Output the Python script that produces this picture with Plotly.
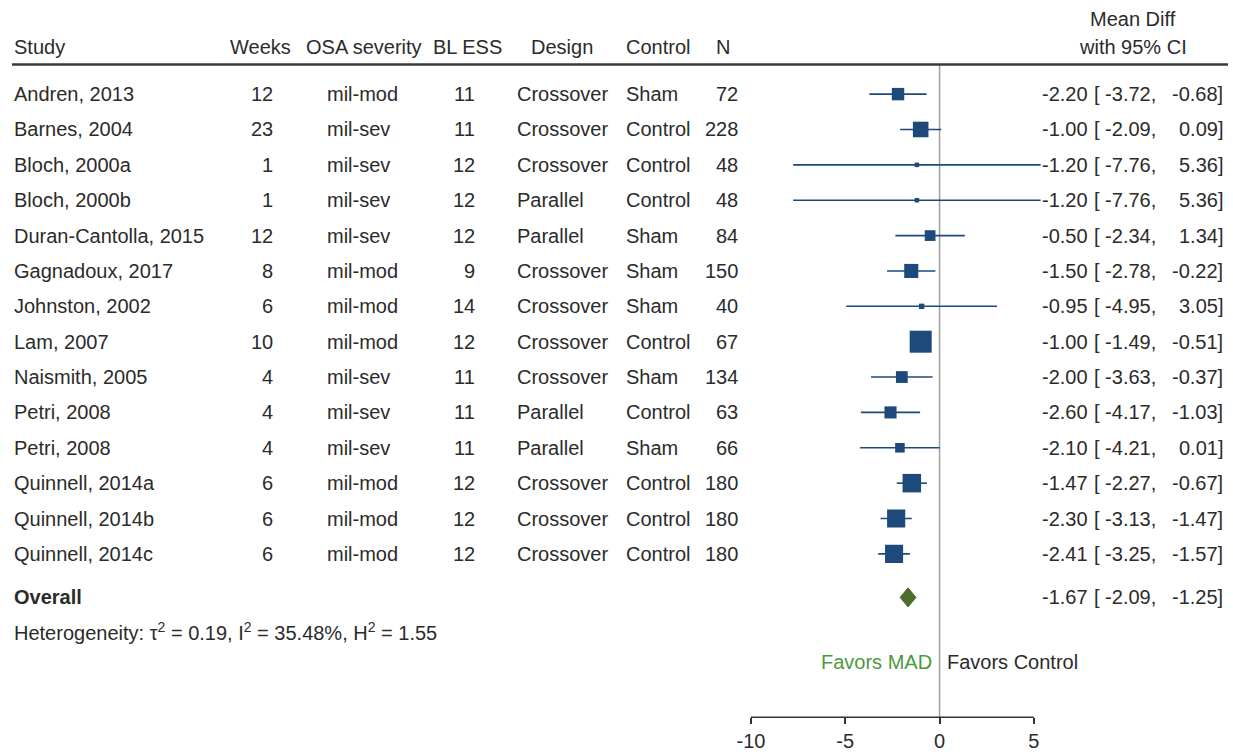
import plotly.graph_objects as go

# ---------------- data ----------------
studies = ["Andren, 2013", "Barnes, 2004", "Bloch, 2000a", "Bloch, 2000b",
           "Duran-Cantolla, 2015", "Gagnadoux, 2017", "Johnston, 2002", "Lam, 2007",
           "Naismith, 2005", "Petri, 2008", "Petri, 2008", "Quinnell, 2014a",
           "Quinnell, 2014b", "Quinnell, 2014c"]
weeks = [12, 23, 1, 1, 12, 8, 6, 10, 4, 4, 4, 6, 6, 6]
severity = ["mil-mod", "mil-sev", "mil-sev", "mil-sev", "mil-sev", "mil-mod", "mil-mod",
            "mil-mod", "mil-sev", "mil-sev", "mil-sev", "mil-mod", "mil-mod", "mil-mod"]
bl_ess = [11, 11, 12, 12, 12, 9, 14, 12, 11, 11, 11, 12, 12, 12]
design = ["Crossover", "Crossover", "Crossover", "Parallel", "Parallel", "Crossover",
          "Crossover", "Crossover", "Crossover", "Parallel", "Parallel", "Crossover",
          "Crossover", "Crossover"]
control = ["Sham", "Control", "Control", "Control", "Sham", "Sham", "Sham", "Control",
           "Sham", "Control", "Sham", "Control", "Control", "Control"]
n_total = [72, 228, 48, 48, 84, 150, 40, 67, 134, 63, 66, 180, 180, 180]
est = [-2.20, -1.00, -1.20, -1.20, -0.50, -1.50, -0.95, -1.00, -2.00, -2.60, -2.10,
       -1.47, -2.30, -2.41]
ci_lo = [-3.72, -2.09, -7.76, -7.76, -2.34, -2.78, -4.95, -1.49, -3.63, -4.17, -4.21,
         -2.27, -3.13, -3.25]
ci_hi = [-0.68, 0.09, 5.36, 5.36, 1.34, -0.22, 3.05, -0.51, -0.37, -1.03, 0.01,
         -0.67, -1.47, -1.57]
weights = [5.9, 9.3, 0.4, 0.4, 4.4, 7.6, 1.1, 18.5, 5.3, 5.6, 3.5, 13.1, 12.6, 12.5]
overall_est, overall_lo, overall_hi = -1.67, -2.09, -1.25
heterogeneity = "Heterogeneity: τ<sup>2</sup> = 0.19, I<sup>2</sup> = 35.48%, H<sup>2</sup> = 1.55"
x_ticks = [-10, -5, 0, 5]
x_ticktext = ["-10", "-5", "0", "5"]

# ---------------- layout constants ----------------
W, H = 1233, 752
FONT = "Liberation Sans, Arial, Helvetica, sans-serif"
FS = 20
TXT = "#2b2b2b"
BLUE = "#1d4a7a"
DGREEN = "#4f6e2c"
LGREEN = "#4a9a3c"
AXIS_PX = 724          # pixel row of the x-axis line
ROW0_PX = 95           # pixel row of first study
ROW_PX = 35.7          # pixels per row


def px(x):
    return x / W


rows = list(range(len(studies)))
overall_y = 14.23
het_y = 15.2
favors_y = 16.07
header_y = -1.345
header_top_y = -2.13
rule_y = -0.84
axis_bottom = (AXIS_PX - ROW0_PX) / ROW_PX
axis_top = -ROW0_PX / ROW_PX

fig = go.Figure()

# CI lines
xs, ys = [], []
for i in rows:
    xs += [ci_lo[i], ci_hi[i], None]
    ys += [i, i, None]
fig.add_trace(go.Scatter(x=xs, y=ys, mode="lines", line=dict(color=BLUE, width=1.6),
                         hoverinfo="skip"))

# squares (area proportional to weight)
sizes = [max(4.5, 5.11 * w ** 0.5) for w in weights]
fig.add_trace(go.Scatter(x=est, y=rows, mode="markers",
                         marker=dict(symbol="square", size=sizes, color=BLUE, opacity=1,
                                     line=dict(width=0)),
                         hoverinfo="skip"))

# overall diamond
hh = 0.27
fig.add_trace(go.Scatter(
    x=[overall_lo, overall_est, overall_hi, overall_est, overall_lo],
    y=[overall_y, overall_y - hh, overall_y, overall_y + hh, overall_y],
    mode="lines", fill="toself", fillcolor=DGREEN, line=dict(color=DGREEN, width=1),
    hoverinfo="skip"))

annotations = []
LSHIFT = -4


def add_text(x, y, text, anchor="left", color=TXT, size=FS):
    if anchor == "left":
        x = x + LSHIFT
    annotations.append(dict(x=px(x), xref="paper", y=y, yref="y", text=text,
                            showarrow=False, xanchor=anchor, yanchor="middle",
                            borderpad=0, borderwidth=0,
                            font=dict(family=FONT, size=size, color=color)))


# headers
add_text(13, header_y, "Study", "left")
add_text(257, header_y, "Weeks", "center")
add_text(360, header_y, "OSA severity", "center")
add_text(464, header_y, "BL ESS", "center")
add_text(559, header_y, "Design", "center")
add_text(656, header_y, "Control", "center")
add_text(721, header_y, "N", "center")
add_text(1133, header_top_y, "Mean Diff", "center")
add_text(1133, header_y, "with 95% CI", "center")

# rows
for i in rows:
    add_text(13, i, studies[i], "left")
    add_text(269, i, str(weeks[i]), "right")
    add_text(327, i, severity[i], "left")
    add_text(472, i, str(bl_ess[i]), "right")
    add_text(518, i, design[i], "left")
    add_text(628, i, control[i], "left")
    add_text(736, i, str(n_total[i]), "right")
    add_text(1087, i, f"{est[i]:.2f}", "right")
    add_text(1097, i, f"[ {ci_lo[i]:.2f},", "left")
    add_text(1223, i, f"{ci_hi[i]:.2f}]", "right")

# overall
add_text(13, overall_y, "<b>Overall</b>", "left")
add_text(1087, overall_y, f"{overall_est:.2f}", "right")
add_text(1097, overall_y, f"[ {overall_lo:.2f},", "left")
add_text(1223, overall_y, f"{overall_hi:.2f}]", "right")
add_text(13, het_y, heterogeneity, "left")

# favors
add_text(931, favors_y, "Favors MAD", "right", color=LGREEN)
add_text(950, favors_y, "Favors Control", "left")

shapes = [
    # header rule
    dict(type="line", xref="paper", yref="y", x0=px(7), x1=px(1228), y0=rule_y, y1=rule_y,
         line=dict(color="#3a3a3a", width=2.5)),
    # zero line
    dict(type="line", xref="x", yref="y", x0=0, x1=0, y0=rule_y, y1=axis_bottom,
         line=dict(color="#a0a0a0", width=1.5), layer="below"),
    # x axis line from -10 to 5
    dict(type="line", xref="x", yref="paper", x0=-10, x1=5,
         y0=(H - AXIS_PX) / H, y1=(H - AXIS_PX) / H,
         line=dict(color="#333333", width=1.5)),
]

fig.update_layout(
    width=W, height=H,
    margin=dict(l=0, r=0, t=0, b=0),
    paper_bgcolor="white", plot_bgcolor="white",
    showlegend=False,
    font=dict(family=FONT, size=FS, color=TXT),
    annotations=annotations,
    shapes=shapes,
    xaxis=dict(domain=[739.5 / W, 1042.5 / W], range=[-10.5, 5.5],
               tickvals=x_ticks, ticktext=x_ticktext, ticks="outside", ticklen=6,
               tickwidth=1.5, tickcolor="#333333", showline=False, showgrid=False,
               zeroline=False, tickfont=dict(family=FONT, size=FS, color=TXT),
               fixedrange=True),
    yaxis=dict(domain=[(H - AXIS_PX) / H, 1], range=[axis_bottom, axis_top], visible=False,
               fixedrange=True),
)

fig.write_html(
    "out.html",
    config={"displayModeBar": False},
    post_script="document.body.style.margin='0';document.body.style.overflow='hidden';",
)
